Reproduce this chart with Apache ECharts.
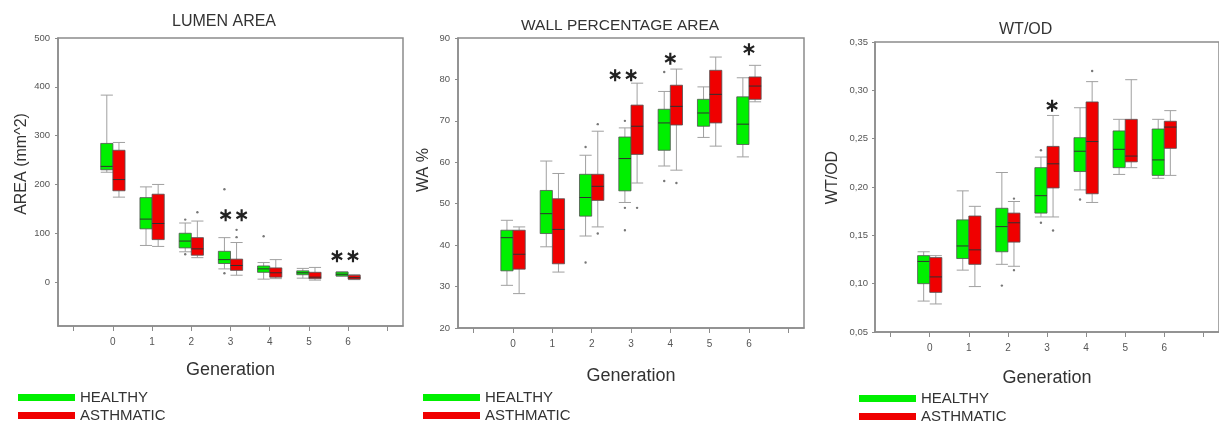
<!DOCTYPE html>
<html>
<head>
<meta charset="utf-8">
<script src="https://cdn.jsdelivr.net/npm/echarts@6/dist/echarts.min.js"></script>
<style>
html,body{margin:0;padding:0;background:#fff;}
#chart{width:1219px;height:425px;}
</style>
</head>
<body>
<div id="chart"></div>
<script>
// ---------- DATA ----------
const generations = [0, 1, 2, 3, 4, 5, 6];
const groupNames = ['HEALTHY', 'ASTHMATIC'];

// each box: [min, Q1, median, Q3, max]
const lumenHealthy = [[225,230,237,284,383],[75,109,129,173,195],[62,70,84,100,121],[27,38,46,63,91],[6,20,27,33,40],[8,15,19,23,28],[12,12.5,16,20.5,21]];
const lumenAsthmatic = [[174,187,210,270,286],[73,87,120,180,200],[50,55,68,91,125],[14,24,34,47,81],[7,10,19,29,46],[4,7,10,20,30],[5,6,9,14,15]];
const lumenHealthyOut = [[2,128],[2,57],[3,190],[3,18],[4,94]];
const lumenAsthmaticOut = [[2,143],[3,107],[3,92]];
const lumenStars = [[3.08,137,2],[5.92,53,2]];

const waHealthy = [[30.3,33.8,41.8,43.6,46],[39.6,42.8,47.6,53.2,60.3],[42.2,47,51.5,57.1,61.7],[50.3,53.1,60.9,66.1,68.3],[59.1,62.9,69.5,72.8,77.1],[66,68.7,71.9,75.2,78.2],[61.3,64.3,69.2,75.8,80.4]];
const waAsthmatic = [[28.3,34.2,37.8,43.6,44.4],[33.5,35.5,43.8,51.2,57.3],[44.4,50.8,54.2,57.1,67.5],[55,61.9,68.7,73.8,79.1],[58.1,69,73.5,78.6,82.5],[63.9,69.5,76.4,82.2,85.4],[74.6,75.2,78.4,80.6,83.4]];
const waHealthyOut = [[2,63.7],[2,35.8],[3,70],[3,49],[3,43.6],[4,81.8],[4,55.5]];
const waAsthmaticOut = [[2,69.2],[2,42.8],[3,49],[4,55]];
const waStars = [[2.8,81,2],[4.0,85,1],[6.0,87.3,1]];

const wtHealthy = [[0.082,0.100,0.123,0.129,0.133],[0.114,0.126,0.139,0.166,0.196],[0.120,0.133,0.159,0.178,0.215],[0.169,0.173,0.191,0.220,0.231],[0.197,0.216,0.237,0.251,0.282],[0.213,0.220,0.239,0.258,0.270],[0.209,0.212,0.228,0.260,0.270]];
const wtAsthmatic = [[0.079,0.091,0.107,0.127,0.129],[0.097,0.120,0.135,0.170,0.180],[0.118,0.143,0.163,0.173,0.185],[0.169,0.199,0.224,0.242,0.274],[0.184,0.193,0.247,0.288,0.309],[0.220,0.226,0.232,0.270,0.311],[0.212,0.240,0.262,0.268,0.279]];
const wtHealthyOut = [[2,0.098],[3,0.238],[3,0.163],[4,0.187]];
const wtAsthmaticOut = [[2,0.188],[2,0.114],[3,0.155],[4,0.320]];
const wtStars = [[3.13,0.284,1]];

const xTicks = [-1, 0, 1, 2, 3, 4, 5, 6, 7];
const lumenTicks = [0, 100, 200, 300, 400, 500];
const wtTicks = [0.05, 0.10, 0.15, 0.20, 0.25, 0.30, 0.35];

const panelTitles = ['LUMEN AREA', 'WALL PERCENTAGE AREA', 'WT/OD'];
const yNames = ['AREA (mm^2)', 'WA %', 'WT/OD'];
const xName = 'Generation';

// ---------- STYLE ----------
const FONT = 'Liberation Sans, Arial, sans-serif';
const GREEN = '#00f000';
const RED = '#f00000';
const FRAME = '#8c8c8c';
const WHISKER = '#a0a0a0';
const BOX_W = 0.31;

function makeBoxRender(side) {
  return function (params, api) {
    const g = api.value(0);
    const unit = api.size([1, 0])[0];
    const bw = unit * BOX_W;
    const cx = api.coord([g, api.value(3)])[0] + side * bw / 2;
    const y = i => api.coord([g, api.value(i)])[1];
    const yMin = y(1), yQ1 = y(2), yMed = y(3), yQ3 = y(4), yMax = y(5);
    const cap = bw;
    const w = { stroke: WHISKER, lineWidth: 1 };
    return {
      type: 'group',
      children: [
        { type: 'line', shape: { x1: cx, y1: yQ3, x2: cx, y2: yMax }, style: w },
        { type: 'line', shape: { x1: cx - cap / 2, y1: yMax, x2: cx + cap / 2, y2: yMax }, style: w },
        { type: 'line', shape: { x1: cx, y1: yQ1, x2: cx, y2: yMin }, style: w },
        { type: 'line', shape: { x1: cx - cap / 2, y1: yMin, x2: cx + cap / 2, y2: yMin }, style: w },
        { type: 'rect', shape: { x: cx - bw / 2, y: yQ3, width: bw, height: Math.max(yQ1 - yQ3, 1) },
          style: { fill: api.visual('color'), stroke: '#505050', lineWidth: 0.8 } },
        { type: 'line', shape: { x1: cx - bw / 2, y1: yMed, x2: cx + bw / 2, y2: yMed },
          style: { stroke: '#303030', lineWidth: 1 } }
      ]
    };
  };
}

function makeOutRender(side) {
  return function (params, api) {
    const unit = api.size([1, 0])[0];
    const bw = unit * BOX_W;
    const p = api.coord([api.value(0), api.value(1)]);
    return { type: 'circle', shape: { cx: p[0] + side * bw / 2, cy: p[1], r: 1.2 }, style: { fill: '#777' } };
  };
}

const STAR_PATH = 'M-0.18,1L0.18,1L0.18,-1L-0.18,-1Z' +
  'M0.776,0.656L0.956,0.344L-0.776,-0.656L-0.956,-0.344Z' +
  'M-0.956,0.344L-0.776,0.656L0.956,-0.344L0.776,-0.656Z';

function starRender(params, api) {
  const p = api.coord([api.value(0), api.value(1)]);
  const n = api.value(2);
  const size = 12, gap = 16;
  const children = [];
  for (let k = 0; k < n; k++) {
    const cx = p[0] + (k - (n - 1) / 2) * gap;
    children.push({ type: 'path', shape: { pathData: STAR_PATH, x: cx - size / 2, y: p[1] - size / 2, width: size, height: size },
      style: { fill: '#222' } });
  }
  return { type: 'group', children };
}

const panels = [
  { h: lumenHealthy, a: lumenAsthmatic, ho: lumenHealthyOut, ao: lumenAsthmaticOut, stars: lumenStars },
  { h: waHealthy, a: waAsthmatic, ho: waHealthyOut, ao: waAsthmaticOut, stars: waStars },
  { h: wtHealthy, a: wtAsthmatic, ho: wtHealthyOut, ao: wtAsthmaticOut, stars: wtStars }
];

const grids = [
  { left: 58, top: 38, width: 345, height: 288 },
  { left: 458, top: 38, width: 346, height: 290 },
  { left: 875, top: 42, width: 349, height: 290 }
].map(g => Object.assign(g, { show: true, borderColor: FRAME, borderWidth: 1.5, backgroundColor: 'transparent', containLabel: false }));

const xNameGaps = [35, 39, 37];
const xAxes = [0, 1, 2].map(i => ({
  type: 'value', gridIndex: i, min: -1.4, max: 7.4,
  axisLine: { show: true, onZero: false, lineStyle: { color: FRAME, width: 1.5 } },
  axisTick: { show: true, customValues: xTicks, length: 5, lineStyle: { color: FRAME } },
  axisLabel: { customValues: generations, fontSize: 10, color: '#555', margin: 11, fontFamily: FONT },
  splitLine: { show: false },
  name: xName, nameLocation: 'middle', nameGap: xNameGaps[i],
  nameTextStyle: { fontSize: 18, color: '#333', fontFamily: FONT }
}));

const yCommon = {
  type: 'value',
  axisLine: { show: true, onZero: false, lineStyle: { color: FRAME, width: 1.5 } },
  splitLine: { show: false },
  nameLocation: 'middle'
};
const yAxes = [
  Object.assign({}, yCommon, {
    gridIndex: 0, min: -90, max: 500,
    axisTick: { show: true, customValues: lumenTicks, length: 3, lineStyle: { color: FRAME } },
    axisLabel: { customValues: lumenTicks, fontSize: 9.5, color: '#555', margin: 8, fontFamily: FONT },
    name: yNames[0], nameGap: 28,
    nameTextStyle: { fontSize: 16, color: '#333', fontFamily: FONT, padding: [0, 0, 0, 36] }
  }),
  Object.assign({}, yCommon, {
    gridIndex: 1, min: 20, max: 90, interval: 10,
    axisTick: { show: true, length: 3, lineStyle: { color: FRAME } },
    axisLabel: { fontSize: 9.5, color: '#555', margin: 8, fontFamily: FONT },
    name: yNames[1], nameGap: 26,
    nameTextStyle: { fontSize: 16, color: '#333', fontFamily: FONT, padding: [0, 0, 0, 26] }
  }),
  Object.assign({}, yCommon, {
    gridIndex: 2, min: 0.05, max: 0.35,
    axisTick: { show: true, customValues: wtTicks, length: 3, lineStyle: { color: FRAME } },
    axisLabel: { customValues: wtTicks, fontSize: 9.5, color: '#555', margin: 7, fontFamily: FONT,
      formatter: v => v.toFixed(2).replace('.', ',') },
    name: yNames[2], nameGap: 34,
    nameTextStyle: { fontSize: 16, color: '#333', fontFamily: FONT, padding: [0, 0, 0, 19] }
  })
];

const series = [];
panels.forEach((p, i) => {
  series.push({
    name: groupNames[0], type: 'custom', xAxisIndex: i, yAxisIndex: i,
    itemStyle: { color: GREEN }, renderItem: makeBoxRender(-1),
    encode: { x: 0, y: [1, 2, 3, 4, 5] },
    data: generations.map((g, k) => [g].concat(p.h[k]))
  });
  series.push({
    name: groupNames[1], type: 'custom', xAxisIndex: i, yAxisIndex: i,
    itemStyle: { color: RED }, renderItem: makeBoxRender(1),
    encode: { x: 0, y: [1, 2, 3, 4, 5] },
    data: generations.map((g, k) => [g].concat(p.a[k]))
  });
  series.push({
    name: 'out-h-' + i, type: 'custom', xAxisIndex: i, yAxisIndex: i,
    renderItem: makeOutRender(-1), encode: { x: 0, y: 1 }, data: p.ho
  });
  series.push({
    name: 'out-a-' + i, type: 'custom', xAxisIndex: i, yAxisIndex: i,
    renderItem: makeOutRender(1), encode: { x: 0, y: 1 }, data: p.ao
  });
  series.push({
    name: 'stars-' + i, type: 'custom', xAxisIndex: i, yAxisIndex: i,
    renderItem: starRender, encode: { x: 0, y: 1 }, data: p.stars
  });
});

const titleLefts = [172, 521, 999];
const titleTops = [14, 18, 22];
const titleSizes = [16, 15.5, 16];
const titles = panelTitles.map((t, i) => ({
  text: t, left: titleLefts[i], top: titleTops[i], padding: 0,
  textStyle: { fontSize: titleSizes[i], fontWeight: 'normal', color: '#333', fontFamily: FONT }
}));

const legendPos = [[18, 390], [423, 390], [859, 391]];
const legends = legendPos.map(pos => ({
  data: groupNames, orient: 'vertical', left: pos[0], top: pos[1], padding: 0,
  itemWidth: 57, itemHeight: 7, itemGap: 3, icon: 'rect', selectedMode: false,
  textStyle: { fontSize: 15, color: '#333', fontFamily: FONT }
}));

const chart = echarts.init(document.getElementById('chart'), null, { renderer: 'canvas' });
chart.setOption({
  backgroundColor: '#fff',
  animation: false,
  textStyle: { fontFamily: FONT },
  title: titles,
  legend: legends,
  grid: grids,
  xAxis: xAxes,
  yAxis: yAxes,
  series: series
});
</script>
</body>
</html>
